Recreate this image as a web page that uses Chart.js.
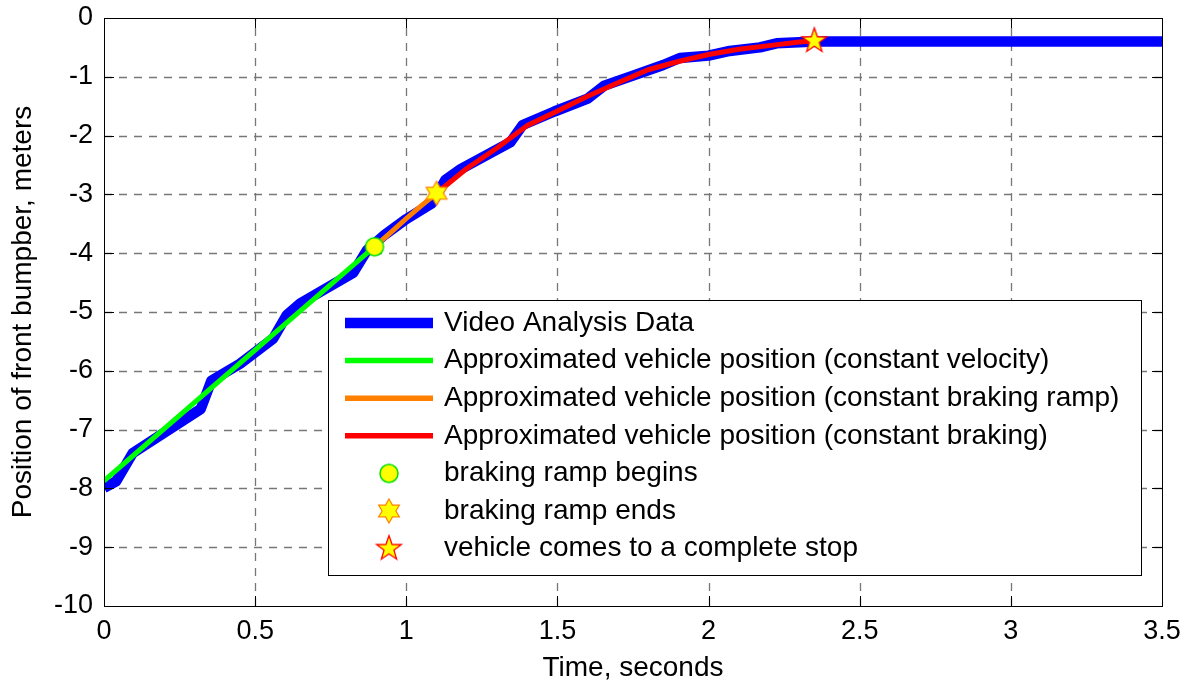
<!DOCTYPE html>
<html>
<head>
<meta charset="utf-8">
<script src="https://cdn.jsdelivr.net/npm/chart.js@4.4.1/dist/chart.umd.min.js"></script>
<style>
    body{ margin:0; background:#fff; }
    #wrap{ width:1191px; height:688px; }
</style>
</head>
<body>
<div id="wrap"><canvas id="chart" width="1191" height="688"></canvas></div>
<script>

// video analysis of the front bumper (time s, position m)
const videoT = [0, 0.04, 0.095, 0.32, 0.355, 0.45, 0.56, 0.605, 0.65, 0.825, 0.87, 0.93, 1.0, 1.085,
    1.13, 1.18, 1.345, 1.385, 1.49, 1.6, 1.655, 1.75, 1.85, 1.905, 2.0, 2.07, 2.17, 2.225, 2.355, 3.5];
const videoY = [-7.99, -7.88, -7.40, -6.65, -6.17, -5.88, -5.45, -5.05, -4.85, -4.33, -3.95, -3.68, -3.42, -3.15,
    -2.75, -2.57, -2.11, -1.82, -1.59, -1.37, -1.15, -0.98, -0.80, -0.68, -0.64, -0.56, -0.50, -0.43, -0.40, -0.40];

// constant velocity phase
const velocityT = [0, 0.895];
const velocityY = [-7.87, -3.89];

// braking ramp phase
const rampT = [0.895, 0.95, 1.0, 1.05, 1.1];
const rampY = [-3.89, -3.64, -3.41, -3.19, -2.98];

// constant braking phase
const brakingT = [1.1, 1.2, 1.3, 1.4, 1.5, 1.6, 1.7, 1.8, 1.9, 2.0, 2.1, 2.2, 2.3, 2.35];
const brakingY = [-2.98, -2.56, -2.21, -1.83, -1.58, -1.33, -1.10, -0.88, -0.74, -0.62, -0.53, -0.47, -0.41, -0.39];

// event markers
const rampBegins = [0.895, -3.89];
const rampEnds = [1.1, -2.98];
const fullStop = [2.35, -0.39];

const xTickValues = [0, 0.5, 1, 1.5, 2, 2.5, 3, 3.5];
const yTickValues = [0, -1, -2, -3, -4, -5, -6, -7, -8, -9, -10];

const FONT = "'Liberation Sans', Arial, Helvetica, sans-serif";

function toPoints(ts, ys){
    return ts.map((t, i) => ({x:t, y:ys[i]}));
}

// small canvases used as point styles
function makeStar(points, outer, inner, fill, stroke, lw){
    const size = Math.ceil(outer * 2 + 4);
    const c = document.createElement("canvas");
    c.width = size;
    c.height = size;
    const g = c.getContext("2d");
    g.translate(size / 2, size / 2);
    g.beginPath();
    for(let i = 0; i < points * 2; i++){
        const r = i % 2 === 0 ? outer : inner;
        const a = -Math.PI / 2 + i * Math.PI / points;
        const px = r * Math.cos(a);
        const py = r * Math.sin(a);
        if(i === 0) g.moveTo(px, py); else g.lineTo(px, py);
    }
    g.closePath();
    g.fillStyle = fill;
    g.fill();
    g.lineWidth = lw;
    g.strokeStyle = stroke;
    g.lineJoin = "miter";
    g.stroke();
    return c;
}

function makeCircle(r, fill, stroke, lw){
    const size = Math.ceil(r * 2 + 4);
    const c = document.createElement("canvas");
    c.width = size;
    c.height = size;
    const g = c.getContext("2d");
    g.beginPath();
    g.arc(size / 2, size / 2, r, 0, Math.PI * 2);
    g.fillStyle = fill;
    g.fill();
    g.lineWidth = lw;
    g.strokeStyle = stroke;
    g.stroke();
    return c;
}

const circleImg = makeCircle(9, "#ffff00", "#00e000", 1.5);
const hexImg = makeStar(6, 12, 6.9, "#ffff00", "#ff8000", 1.2);
const pentaImg = makeStar(5, 13, 5.2, "#ffff00", "#ff0000", 1.3);

const legendItems = [
    {text:"Video Analysis Data", color:"#0000ff", width:10.5},
    {text:"Approximated vehicle position (constant velocity)", color:"#00ff00", width:5.5},
    {text:"Approximated vehicle position (constant braking ramp)", color:"#ff8000", width:5.5},
    {text:"Approximated vehicle position (constant braking)", color:"#ff0000", width:5.5},
    {text:"braking ramp begins", img:circleImg},
    {text:"braking ramp ends", img:hexImg},
    {text:"vehicle comes to a complete stop", img:pentaImg}
];

// dashed grid under the data, box and inward ticks above it, legend on top
const frame = {
    id:"frame",
    beforeDatasetsDraw(chart){
        const {ctx, chartArea:a, scales:{x, y}} = chart;
        ctx.save();
        ctx.strokeStyle = "#777777";
        ctx.lineWidth = 1.3;
        ctx.setLineDash([8, 7]);
        xTickValues.slice(1, -1).forEach(v => {
            const px = Math.round(x.getPixelForValue(v)) + 0.5;
            ctx.beginPath();
            ctx.moveTo(px, a.bottom);
            ctx.lineTo(px, a.top);
            ctx.stroke();
        });
        yTickValues.slice(1, -1).forEach(v => {
            const py = Math.round(y.getPixelForValue(v)) + 0.5;
            ctx.beginPath();
            ctx.moveTo(a.left, py);
            ctx.lineTo(a.right, py);
            ctx.stroke();
        });
        ctx.restore();
    },
    afterDatasetsDraw(chart){
        const {ctx, chartArea:a, scales:{x, y}} = chart;
        ctx.save();
        ctx.strokeStyle = "#000";
        ctx.lineWidth = 1;
        ctx.setLineDash([]);
        ctx.beginPath();
        xTickValues.forEach(v => {
            const px = Math.round(x.getPixelForValue(v)) + 0.5;
            ctx.moveTo(px, a.bottom);
            ctx.lineTo(px, a.bottom - 10);
            ctx.moveTo(px, a.top);
            ctx.lineTo(px, a.top + 10);
        });
        yTickValues.forEach(v => {
            const py = Math.round(y.getPixelForValue(v)) + 0.5;
            ctx.moveTo(a.left, py);
            ctx.lineTo(a.left + 10, py);
            ctx.moveTo(a.right, py);
            ctx.lineTo(a.right - 10, py);
        });
        ctx.stroke();
        ctx.strokeRect(Math.round(a.left) + 0.5, Math.round(a.top) + 0.5,
            Math.round(a.right - a.left), Math.round(a.bottom - a.top));
        ctx.restore();
    },
    afterDraw(chart){
        const ctx = chart.ctx;
        const box = {left:328.5, top:300.5, right:1141.5, bottom:575.5};
        ctx.save();
        ctx.fillStyle = "#fff";
        ctx.fillRect(box.left, box.top, box.right - box.left, box.bottom - box.top);
        ctx.strokeStyle = "#000";
        ctx.lineWidth = 1;
        ctx.strokeRect(box.left, box.top, box.right - box.left, box.bottom - box.top);

        ctx.font = "28px " + FONT;
        ctx.textBaseline = "middle";
        ctx.textAlign = "left";
        legendItems.forEach((item, i) => {
            const cy = 323 + i * 37.6;
            if(item.img){
                ctx.drawImage(item.img, 389 - item.img.width / 2, cy - item.img.height / 2);
            }else{
                ctx.strokeStyle = item.color;
                ctx.lineWidth = item.width;
                ctx.beginPath();
                ctx.moveTo(345, cy);
                ctx.lineTo(433, cy);
                ctx.stroke();
            }
            ctx.fillStyle = "#000";
            ctx.fillText(item.text, 444, cy);
        });
        ctx.restore();
    }
};

const lineDefaults = {
    pointRadius:0,
    tension:0,
    borderJoinStyle:"round",
    borderCapStyle:"butt",
    fill:false
};

new Chart(
    document.getElementById("chart"),
    {
        type:"line",
        data:{
            datasets:[
                {
                    ...lineDefaults,
                    label:"Video Analysis Data",
                    data:toPoints(videoT, videoY),
                    borderColor:"#0000ff",
                    borderWidth:10.5,
                    order:6
                },
                {
                    ...lineDefaults,
                    label:"Approximated vehicle position (constant velocity)",
                    data:toPoints(velocityT, velocityY),
                    borderColor:"#00ff00",
                    borderWidth:5,
                    order:5
                },
                {
                    ...lineDefaults,
                    label:"Approximated vehicle position (constant braking ramp)",
                    data:toPoints(rampT, rampY),
                    borderColor:"#ff8000",
                    borderWidth:5,
                    order:4
                },
                {
                    ...lineDefaults,
                    label:"Approximated vehicle position (constant braking)",
                    data:toPoints(brakingT, brakingY),
                    borderColor:"#ff0000",
                    borderWidth:5,
                    order:3
                },
                {
                    label:"braking ramp begins",
                    data:[{x:rampBegins[0], y:rampBegins[1]}],
                    showLine:false,
                    pointStyle:circleImg,
                    pointRadius:10,
                    order:2
                },
                {
                    label:"braking ramp ends",
                    data:[{x:rampEnds[0], y:rampEnds[1]}],
                    showLine:false,
                    pointStyle:hexImg,
                    pointRadius:10,
                    order:1
                },
                {
                    label:"vehicle comes to a complete stop",
                    data:[{x:fullStop[0], y:fullStop[1]}],
                    showLine:false,
                    pointStyle:pentaImg,
                    pointRadius:10,
                    order:0
                }
            ]
        },
        options:{
            responsive:false,
            animation:false,
            devicePixelRatio:1,
            layout:{padding:{top:18, right:29, left:0, bottom:0}},
            plugins:{
                legend:{display:false},
                tooltip:{enabled:false}
            },
            scales:{
                x:{
                    type:"linear",
                    min:0,
                    max:3.5,
                    afterBuildTicks(scale){
                        scale.ticks = xTickValues.map(v => ({value:v}));
                    },
                    afterFit(scale){
                        scale.height = 82;
                        scale.paddingLeft = 0;
                        scale.paddingRight = 0;
                    },
                    grid:{display:false, drawTicks:false},
                    border:{display:false},
                    ticks:{
                        autoSkip:false,
                        maxRotation:0,
                        padding:9,
                        color:"#000",
                        font:{family:FONT, size:27},
                        callback:v => String(v)
                    },
                    title:{
                        display:true,
                        text:"Time, seconds",
                        color:"#000",
                        font:{family:FONT, size:28},
                        padding:{top:0, bottom:3}
                    }
                },
                y:{
                    type:"linear",
                    min:-10,
                    max:0,
                    afterBuildTicks(scale){
                        scale.ticks = yTickValues.map(v => ({value:v}));
                    },
                    afterFit(scale){
                        scale.width = 104;
                        scale.paddingTop = 0;
                        scale.paddingBottom = 0;
                    },
                    grid:{display:false, drawTicks:false},
                    border:{display:false},
                    ticks:{
                        autoSkip:false,
                        padding:11,
                        color:"#000",
                        font:{family:FONT, size:27},
                        callback:v => String(v)
                    },
                    title:{
                        display:true,
                        text:"Position of front bumpber, meters",
                        color:"#000",
                        font:{family:FONT, size:28},
                        padding:{top:6, bottom:0}
                    }
                }
            }
        },
        plugins:[frame]
    }
);
</script>
</body>
</html>
